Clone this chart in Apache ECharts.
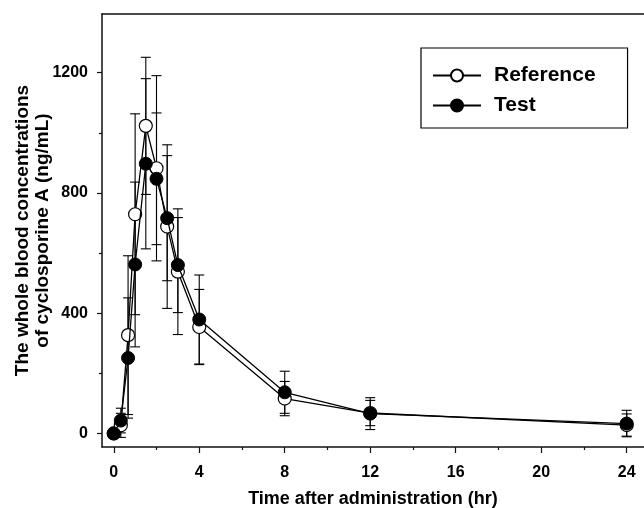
<!DOCTYPE html>
<html>
<head>
<meta charset="UTF-8">
<script src="https://cdn.jsdelivr.net/npm/echarts@6/dist/echarts.min.js"></script>
<style>
html, body { margin: 0; padding: 0; background: #fff; }
#main { width: 644px; height: 508px; }
</style>
</head>
<body>
<div id="main"></div>
<script>
// sampling times (hr)
var times = [0, 0.33, 0.67, 1, 1.5, 2, 2.5, 3, 4, 8, 12, 24];
// Reference: mean and SD (ng/mL)
var refMean = [0, 27, 327, 729, 1023, 882, 688, 538, 354, 116, 68, 28];
var refSD   = [0, 40, 264, 334, 228, 308, 272, 209, 125, 57, 42, 37];
// Test: mean and SD (ng/mL)
var testMean = [0, 43, 251, 562, 897, 847, 716, 560, 379, 137, 66, 33];
var testSD   = [0, 41, 200, 274, 283, 219, 208, 158, 148, 70, 53, 44];

var xMajor = [0, 4, 8, 12, 16, 20, 24];
var xMinor = [2, 6, 10, 14, 18, 22];
var yMajor = [0, 400, 800, 1200];
var yMinor = [200, 600, 1000];

var FONT = "'Liberation Sans', Arial, sans-serif";

function pairs(means) {
    return times.map(function (t, i) { return [t, means[i]]; });
}
function bars(means, sds) {
    var out = [];
    times.forEach(function (t, i) {
        if (sds[i] > 0) out.push([t, means[i] - sds[i], means[i] + sds[i]]);
    });
    return out;
}

function errRender(params, api) {
    var x = api.value(0);
    var lo = api.coord([x, api.value(1)]);
    var hi = api.coord([x, api.value(2)]);
    var w = 5;
    var st = { stroke: '#000', lineWidth: 1.1 };
    return {
        type: 'group',
        children: [
            { type: 'line', shape: { x1: lo[0], y1: lo[1], x2: hi[0], y2: hi[1] }, style: st },
            { type: 'line', shape: { x1: lo[0] - w, y1: lo[1], x2: lo[0] + w, y2: lo[1] }, style: st },
            { type: 'line', shape: { x1: hi[0] - w, y1: hi[1], x2: hi[0] + w, y2: hi[1] }, style: st }
        ]
    };
}

var axisLine = { show: true, onZero: false, lineStyle: { color: '#111', width: 1.5 } };
var xMin = -0.55, xMax = 24.81, yMin = -45, yMax = 1395;

var chart = echarts.init(document.getElementById('main'));
chart.setOption({
    animation: false,
    textStyle: { fontFamily: FONT },
    grid: { left: 102, right: 0, top: 14, bottom: 61, containLabel: false, outerBoundsMode: 'none' },
    legend: {
        orient: 'vertical',
        left: 421,
        top: 48,
        padding: [17, 32, 12, 11],
        borderColor: '#000',
        borderWidth: 1.2,
        borderRadius: 0,
        itemWidth: 48,
        itemHeight: 15,
        itemGap: 9,
        textStyle: { fontFamily: FONT, fontSize: 21, fontWeight: 'bold', color: '#000', padding: [0, 0, 0, 8] },
        data: ['Reference', 'Test']
    },
    xAxis: [
        {
            type: 'value', position: 'bottom', min: xMin, max: xMax,
            name: 'Time after administration (hr)',
            nameLocation: 'middle', nameGap: 43, nameMoveOverlap: false,
            nameTextStyle: { fontFamily: FONT, fontSize: 18, fontWeight: 'bold', color: '#000' },
            axisLine: axisLine,
            axisTick: { show: true, length: 6, customValues: xMajor, lineStyle: { color: '#111', width: 1.2 } },
            axisLabel: { customValues: xMajor, margin: 18, fontFamily: FONT, fontSize: 16, fontWeight: 'bold', color: '#000' },
            splitLine: { show: false }
        },
        {
            type: 'value', position: 'bottom', min: xMin, max: xMax,
            axisLine: { show: false, onZero: false },
            axisTick: { show: true, length: 3, customValues: xMinor, lineStyle: { color: '#111', width: 1.2 } },
            axisLabel: { show: false },
            splitLine: { show: false }
        },
        {
            type: 'value', position: 'top', min: xMin, max: xMax,
            axisLine: axisLine,
            axisTick: { show: false },
            axisLabel: { show: false },
            splitLine: { show: false }
        }
    ],
    yAxis: [
        {
            type: 'value', position: 'left', min: yMin, max: yMax,
            name: 'The whole blood concentrations\nof cyclosporine A (ng/mL)',
            nameLocation: 'middle', nameGap: 49, nameRotate: 90, nameMoveOverlap: false,
            nameTextStyle: { fontFamily: FONT, fontSize: 19, fontWeight: 'bold', color: '#000', lineHeight: 20 },
            axisLine: axisLine,
            axisTick: { show: true, length: 5, customValues: yMajor, lineStyle: { color: '#111', width: 1.2 } },
            axisLabel: {
                customValues: yMajor, margin: 14, fontFamily: FONT, fontSize: 16, fontWeight: 'bold', color: '#000',
                formatter: function (v) { return String(v); }
            },
            splitLine: { show: false }
        },
        {
            type: 'value', position: 'left', min: yMin, max: yMax,
            axisLine: { show: false, onZero: false },
            axisTick: { show: true, length: 3, customValues: yMinor, lineStyle: { color: '#111', width: 1.2 } },
            axisLabel: { show: false },
            splitLine: { show: false }
        }
    ],
    series: [
        {
            name: 'Reference SD', type: 'custom', z: 1,
            renderItem: errRender, data: bars(refMean, refSD)
        },
        {
            name: 'Test SD', type: 'custom', z: 1,
            renderItem: errRender, data: bars(testMean, testSD)
        },
        {
            name: 'Reference', type: 'line', z: 3,
            data: pairs(refMean),
            symbol: 'circle', symbolSize: 13,
            lineStyle: { color: '#000', width: 1.3 },
            itemStyle: { color: '#fff', borderColor: '#000', borderWidth: 1.2 }
        },
        {
            name: 'Test', type: 'line', z: 4,
            data: pairs(testMean),
            symbol: 'circle', symbolSize: 13,
            lineStyle: { color: '#000', width: 1.3 },
            itemStyle: { color: '#000', borderColor: '#000', borderWidth: 1 }
        }
    ]
});
</script>
</body>
</html>
